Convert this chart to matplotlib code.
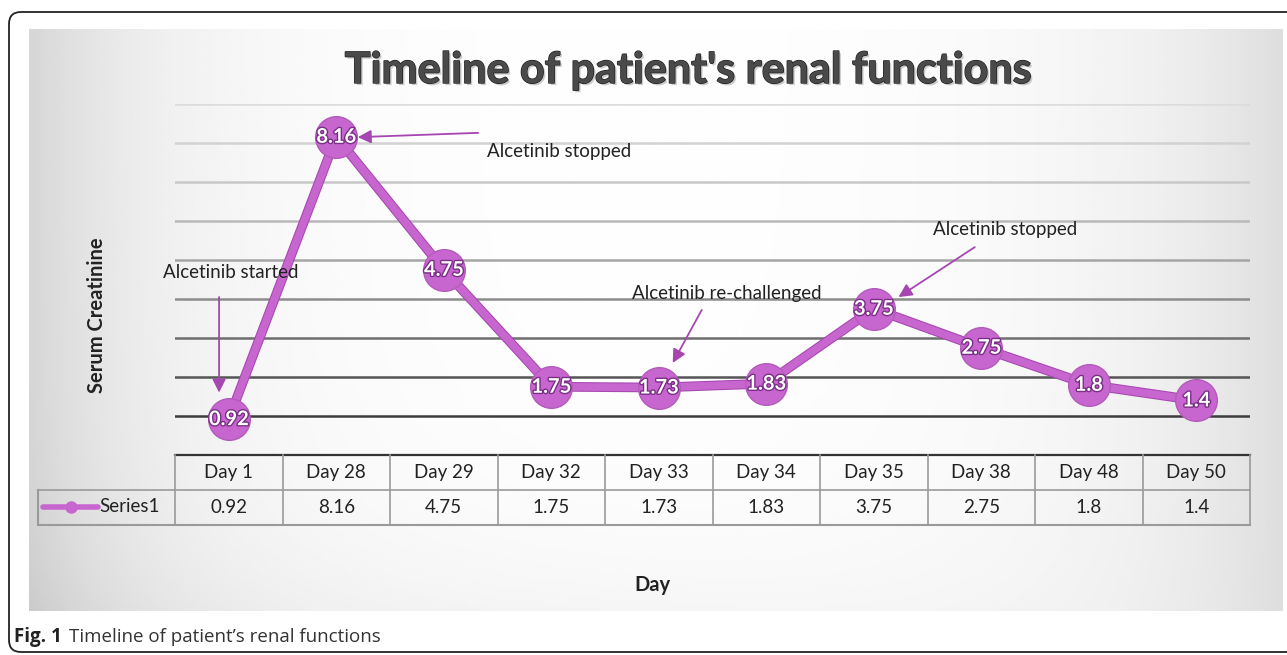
import numpy as np
import matplotlib.pyplot as plt
import matplotlib.patheffects as pe
from matplotlib.patches import FancyBboxPatch

days = ['Day 1', 'Day 28', 'Day 29', 'Day 32', 'Day 33', 'Day 34', 'Day 35', 'Day 38', 'Day 48', 'Day 50']
creatinine = [0.92, 8.16, 4.75, 1.75, 1.73, 1.83, 3.75, 2.75, 1.8, 1.4]
series_name = 'Series1'
notes = ['Alcetinib started', 'Alcetinib stopped', 'Alcetinib re-challenged', 'Alcetinib stopped']

W, H = 1287, 655
purple = '#c866cf'
purple_dark = '#a646b0'
font = 'Lato'

fig = plt.figure(figsize=(W / 100, H / 100), dpi=100)

# background in pixel coordinates
bg = fig.add_axes([0, 0, 1, 1])
bg.set_xlim(0, W)
bg.set_ylim(H, 0)
bg.axis('off')

xx = np.linspace(29, 1283, 400)
yy = np.linspace(29, 611, 200)
X, Y = np.meshgrid(xx, yy)
g = 1 - 0.16 * np.exp(-(X - 29) / 140) - 0.13 * np.exp(-(1283 - X) / 170) \
    - 0.05 * np.exp(-(611 - Y) / 90) * (1 - np.exp(-(1283 - X) / 600))
bg.imshow(g, extent=(29, 1283, 611, 29), cmap='gray', vmin=0, vmax=1, aspect='auto', zorder=0)
bg.add_patch(FancyBboxPatch((9, 12), 1290, 640, boxstyle='round,pad=0,rounding_size=12',
                            fc='none', ec='#222222', lw=1.3, zorder=1))

# caption
bg.text(14, 637, 'Fig. 1', fontsize=13.5, fontweight='bold', family='Open Sans', va='center', color='#222')
bg.text(69, 637, 'Timeline of patient\u2019s renal functions', fontsize=13.5, family='Open Sans',
        va='center', color='#333')

# title
bg.text(688, 70, "Timeline of patient's renal functions", fontsize=31, fontweight='bold', family=font,
        ha='center', va='center', color='#4a4a4a',
        path_effects=[pe.withSimplePatchShadow(offset=(1.5, -1.5), shadow_rgbFace='#999', alpha=0.5),
                      pe.withStroke(linewidth=1.0, foreground='#222')])

# axis labels
bg.text(97, 315, 'Serum Creatinine', rotation=90, fontsize=14.5, fontweight='bold', family=font,
        ha='center', va='center', color='#222')
bg.text(652, 585, 'Day', fontsize=14.5, fontweight='bold', family=font, ha='center', va='center', color='#222')

# data table
x0, x1 = 175, 1250
cw = (x1 - x0) / len(days)
r0, r1, r2 = 455, 490, 525
tc = '#9a9a9a'
bg.plot([x0, x1], [r0, r0], color='#333', lw=1.6, zorder=3)
bg.plot([38, x1], [r1, r1], color=tc, lw=1.2, zorder=3)
bg.plot([38, x1], [r2, r2], color=tc, lw=1.5, zorder=3)
bg.plot([38, 38], [r1, r2], color=tc, lw=1.5, zorder=3)
for i in range(len(days) + 1):
    bg.plot([x0 + i * cw] * 2, [r0, r2], color=tc, lw=1.2, zorder=3)
for i, (d, v) in enumerate(zip(days, creatinine)):
    cx = x0 + (i + 0.5) * cw
    bg.text(cx, (r0 + r1) / 2, d, fontsize=13.5, family=font, ha='center', va='center', color='#222')
    bg.text(cx, (r1 + r2) / 2, f'{v:g}', fontsize=13.5, family=font, ha='center', va='center', color='#222')
bg.plot([43, 98], [507, 507], color=purple, lw=4, solid_capstyle='round', zorder=3)
bg.plot([71], [507], 'o', color=purple, ms=8, zorder=4)
bg.text(99, 507, series_name, fontsize=13.5, family=font, ha='left', va='center', color='#222')

# plot area
ax = fig.add_axes([x0 / W, (H - r0) / H, (x1 - x0) / W, (r0 - 104) / H])
ax.patch.set_alpha(0)
ax.set_xlim(-0.5, len(days) - 0.5)
ax.set_ylim(0, 9)
ax.axis('off')

grid_colors = ['#3c3c3c', '#555555', '#6e6e6e', '#8c8c8c', '#a5a5a5', '#b9b9b9', '#c8c8c8', '#d2d2d2', '#dcdcdc']
for k, c in enumerate(grid_colors, start=1):
    ax.axhline(k, color=c, lw=1.8, zorder=1)

xs = np.arange(len(days))
ax.plot(xs, creatinine, color=purple, lw=5.5, zorder=3,
        path_effects=[pe.Stroke(linewidth=7, foreground=purple_dark), pe.Normal()])
ax.plot(xs, creatinine, 'o', ms=30, mfc=purple, mec='#b35bbb', mew=1, zorder=4)
for x, v in zip(xs, creatinine):
    ax.text(x, v, f'{v:g}', fontsize=14.5, fontweight='bold', family=font, color='white',
            ha='center', va='center', zorder=5,
            path_effects=[pe.withStroke(linewidth=2, foreground='#7a2f86')])

# annotations: (text, arrow tip, arrow tail, text anchor)
ann = [
    (notes[0], (-0.09, 1.6), (-0.09, 4.05), (-0.61, 4.67)),
    (notes[1], (1.2, 8.15), (2.32, 8.26), (2.4, 7.77)),
    (notes[2], (4.13, 2.36), (4.4, 3.72), (3.75, 4.13)),
    (notes[3], (6.23, 4.05), (6.94, 5.33), (6.55, 5.79)),
]
for txt, tip, tail, pos in ann:
    ax.annotate('', xy=tip, xytext=tail,
                arrowprops=dict(arrowstyle='-|>', color=purple_dark, lw=1.3, mutation_scale=20,
                                shrinkA=0, shrinkB=0), zorder=6)
    ax.text(pos[0], pos[1], txt, fontsize=13.5, family=font, ha='left', va='center', color='#222', zorder=6)

fig.savefig('out.png', dpi=100)
